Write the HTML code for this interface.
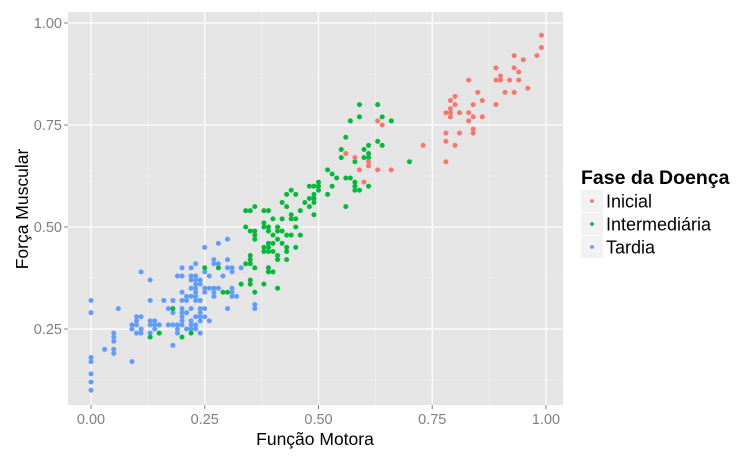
<!DOCTYPE html>
<html><head><meta charset="utf-8">
<style>
body{margin:0;background:#fff;width:746px;height:463px;overflow:hidden;font-family:"Liberation Sans",sans-serif;}
</style></head><body>
<svg id="chart" width="746" height="463" xmlns="http://www.w3.org/2000/svg" font-family="Liberation Sans, sans-serif">
<rect x="68" y="12" width="495" height="393" fill="#E5E5E5"/>
<g id="grid"></g>
<g id="pts"></g>
<g id="axes"></g>
<text x="315" y="445" font-size="17.5" text-anchor="middle" fill="#000">Função Motora</text>
<text transform="translate(28,209) rotate(-90)" font-size="17.5" text-anchor="middle" fill="#000">Força Muscular</text>
<g>
<text x="581" y="184" font-size="19.5" font-weight="bold">Fase da Doença</text>
<rect x="581" y="190" width="22" height="22" fill="#F2F2F2"/>
<circle cx="592" cy="201" r="1.9" fill="#F8766D"/>
<text x="606" y="207.5" font-size="18">Inicial</text>
<rect x="581" y="213" width="22" height="22" fill="#F2F2F2"/>
<circle cx="592" cy="224" r="1.9" fill="#00BA38"/>
<text x="606" y="230.5" font-size="18">Intermediária</text>
<rect x="581" y="236" width="22" height="22" fill="#F2F2F2"/>
<circle cx="592" cy="247" r="1.9" fill="#619CFF"/>
<text x="606" y="253.5" font-size="18">Tardia</text>
</g>
</svg>
<script>
const xTicks=[0,0.25,0.5,0.75,1];
const xTickLabels=["0.00","0.25","0.50","0.75","1.00"];
const yTicks=[0.25,0.5,0.75,1];
const yTickLabels=["0.25","0.50","0.75","1.00"];
const inicialX=[.99,.99,.93,.95,.98,.89,.93,.94,.90,.89,.90,.92,.94,.83,.96,.91,.93,.85,.80,.79,.80,.84,.86,.89,.79,.78,.79,.79,.81,.83,.84,.86,.83,.84,.84,.78,.81,.78,.80,.73,.78,.63,.64,.56,.58,.61,.61,.59,.63,.66,.60];
const inicialY=[.97,.94,.92,.91,.92,.89,.89,.88,.87,.86,.86,.86,.86,.86,.84,.83,.83,.83,.82,.81,.80,.80,.81,.80,.79,.78,.78,.77,.78,.78,.77,.77,.76,.74,.73,.73,.73,.71,.70,.70,.66,.76,.75,.68,.67,.66,.65,.64,.64,.64,.61];
const interX=[.59,.63,.59,.57,.64,.66,.56,.63,.64,.61,.55,.60,.61,.55,.58,.60,.61,.70,.52,.53,.54,.56,.57,.58,.58,.58,.59,.61,.53,.52,.56,
.44,.43,.45,.48,.49,.50,.50,.50,.48,.49,.49,.49,.47,.42,.43,.48,.36,.34,.35,.38,.39,.46,.44,.49,.40,.42,.44,.45,.34,.35,.36,.36,.36,.38,.38,.39,.39,.41,.41,.42,.40,.43,.44,.46,.45,.41,.39,.40,.39,.40,.39,.38,.38,.42,.43,.43,.45,.41,.41,.43,.35,.35,.35,.34,.36,.39,.39,.40,.33,.35,.35,.38,.41,.36,
.28,.25,.29,.30,.18,.15,.13,.20,.22];
const interY=[.80,.80,.77,.76,.77,.76,.72,.71,.70,.70,.69,.69,.68,.67,.66,.67,.67,.66,.64,.63,.62,.62,.62,.61,.60,.59,.59,.60,.60,.58,.55,
.59,.58,.58,.60,.60,.61,.60,.59,.57,.58,.57,.56,.56,.56,.55,.55,.55,.54,.54,.54,.54,.54,.53,.53,.52,.52,.52,.52,.50,.49,.49,.48,.47,.51,.50,.50,.49,.50,.49,.49,.48,.48,.48,.48,.50,.47,.46,.46,.45,.44,.44,.45,.44,.46,.45,.44,.45,.43,.42,.42,.43,.42,.41,.41,.40,.40,.39,.39,.36,.37,.36,.36,.35,.34,
.40,.40,.34,.34,.30,.24,.23,.23,.24];
const tardiaX=[.33,.36,.36,.30,.25,.28,.27,.27,.28,.30,.25,.23,.22,.20,.30,.31,.31,.11,.19,.20,.22,.22,.23,.23,.23,.23,.24,.24,.26,.29,.13,.22,.25,.25,.26,.27,.27,.27,.28,.31,.31,.31,.32,.20,.21,.21,.23,.23,.23,.24,.22,.20,0,0,.06,.13,.16,.18,.17,.18,.20,.20,.20,.20,.20,.21,.22,.23,.24,.24,.24,.24,.25,.25,.26,.30,.22,.22,.22,.23,.23,.21,.19,.19,.17,.18,.14,.15,.14,.14,.13,.13,.10,.11,.10,.10,.09,.09,.11,.10,.11,.13,.19,.24,.18,.05,.05,.05,.03,.05,.05,.09,0,0,0,0,0];
const tardiaY=[.40,.31,.30,.47,.45,.46,.42,.41,.41,.42,.39,.41,.40,.40,.40,.40,.39,.39,.38,.38,.38,.37,.38,.37,.36,.35,.37,.36,.38,.38,.37,.35,.35,.34,.35,.35,.34,.33,.35,.35,.34,.33,.33,.34,.33,.32,.34,.33,.32,.32,.33,.32,.32,.29,.30,.32,.32,.32,.30,.29,.30,.29,.28,.27,.26,.29,.30,.28,.30,.29,.28,.27,.30,.28,.27,.30,.27,.26,.25,.26,.25,.25,.26,.25,.26,.26,.27,.26,.26,.25,.27,.26,.28,.28,.27,.26,.26,.25,.25,.24,.24,.24,.24,.24,.21,.24,.23,.22,.20,.20,.19,.17,.18,.17,.14,.12,.10];
const L=68,R=563,T=12,B=405;
const sx=v=>91+v*455, sy=v=>329-(v-0.25)*408;
const NS="http://www.w3.org/2000/svg";
function mk(tag,attrs,parent){const e=document.createElementNS(NS,tag);for(const k in attrs)e.setAttribute(k,attrs[k]);parent.appendChild(e);return e;}
const grid=document.getElementById('grid'),axes=document.getElementById('axes'),pts=document.getElementById('pts');
[0.125,0.375,0.625,0.875].forEach(v=>{const l=mk('line',{x1:sx(v),x2:sx(v),y1:T,y2:B,stroke:'#F2F2F2','stroke-width':0.6},grid);

});
[0.125,0.375,0.625,0.875].forEach(v=>{const l=mk('line',{x1:L,x2:R,y1:sy(v),y2:sy(v),stroke:'#F2F2F2','stroke-width':0.6},grid);

});
xTicks.forEach((v,i)=>{const l=mk('line',{x1:sx(v),x2:sx(v),y1:T,y2:B,stroke:'#fff','stroke-width':1.2},grid);


const tk=mk('line',{x1:sx(v),x2:sx(v),y1:B,y2:B+4,stroke:'#7F7F7F'},axes);


const t=mk('text',{x:sx(v),y:B+19,'font-size':14.5,'text-anchor':'middle',fill:'#7F7F7F'},axes);t.textContent=xTickLabels[i];

});
yTicks.forEach((v,i)=>{const l=mk('line',{x1:L,x2:R,y1:sy(v),y2:sy(v),stroke:'#fff','stroke-width':1.2},grid);


const tk=mk('line',{x1:L-4,x2:L,y1:sy(v),y2:sy(v),stroke:'#7F7F7F'},axes);


const t=mk('text',{x:L-6,y:sy(v)+5,'font-size':14.5,'text-anchor':'end',fill:'#7F7F7F'},axes);t.textContent=yTickLabels[i];

});
function series(xs,ys,col,name){xs.forEach((x,i)=>{const c=mk('circle',{cx:sx(x),cy:sy(ys[i]),r:2.5,fill:col},pts);

});}
series(tardiaX,tardiaY,'#619CFF','point-tardia');
series(interX,interY,'#00BA38','point-intermediaria');
series(inicialX,inicialY,'#F8766D','point-inicial');
</script>
</body></html>
